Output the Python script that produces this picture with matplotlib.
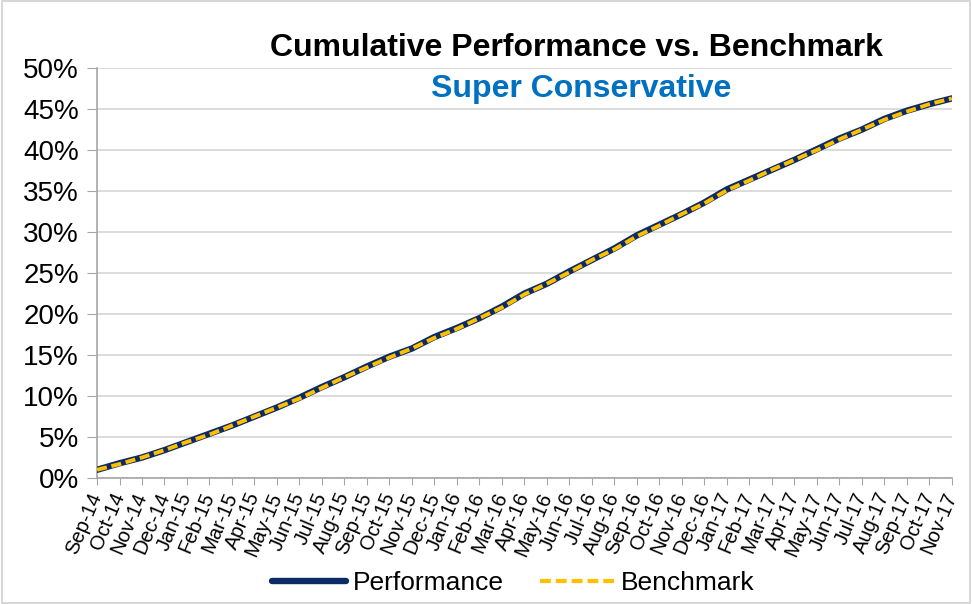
import matplotlib

matplotlib.use("Agg")
import matplotlib.pyplot as plt
from matplotlib.lines import Line2D
from matplotlib.patches import Rectangle
from matplotlib.ticker import FuncFormatter, MultipleLocator

plt.rcParams["font.family"] = ["Liberation Sans", "DejaVu Sans"]

months = [
    "Sep-14", "Oct-14", "Nov-14", "Dec-14", "Jan-15", "Feb-15", "Mar-15", "Apr-15",
    "May-15", "Jun-15", "Jul-15", "Aug-15", "Sep-15", "Oct-15", "Nov-15", "Dec-15",
    "Jan-16", "Feb-16", "Mar-16", "Apr-16", "May-16", "Jun-16", "Jul-16", "Aug-16",
    "Sep-16", "Oct-16", "Nov-16", "Dec-16", "Jan-17", "Feb-17", "Mar-17", "Apr-17",
    "May-17", "Jun-17", "Jul-17", "Aug-17", "Sep-17", "Oct-17", "Nov-17",
]
performance = [
    1.0, 1.8, 2.5, 3.4, 4.4, 5.4, 6.4, 7.5, 8.6, 9.8, 11.1, 12.3, 13.6, 14.8, 15.8,
    17.2, 18.3, 19.5, 20.9, 22.5, 23.7, 25.2, 26.6, 28.0, 29.6, 30.9, 32.2, 33.6,
    35.2, 36.4, 37.6, 38.8, 40.1, 41.4, 42.5, 43.8, 44.8, 45.6, 46.3,
]
benchmark = [
    1.0, 1.7, 2.5, 3.4, 4.4, 5.3, 6.4, 7.5, 8.6, 9.7, 11.0, 12.3, 13.5, 14.7, 15.8,
    17.1, 18.2, 19.5, 20.8, 22.4, 23.7, 25.1, 26.6, 27.9, 29.5, 30.8, 32.2, 33.5,
    35.1, 36.3, 37.6, 38.8, 40.0, 41.3, 42.5, 43.7, 44.7, 45.6, 46.3,
]

NAVY = "#0c2a63"
GOLD = "#ffc000"
GRID = "#d9d9d9"
AXIS = "#a6a6a6"

fig = plt.figure(figsize=(9.72, 6.04), dpi=100)
ax = fig.add_axes([0.0998, 0.2086, 0.8795, 0.6787])

xs = list(range(len(months)))
ax.plot(xs, [v / 100 for v in performance], color=NAVY, lw=4.6, solid_capstyle="round", zorder=3)
ax.plot(xs, [v / 100 for v in benchmark], color=GOLD, lw=2.8, dashes=(2.6, 1.2), zorder=4)

ax.set_xlim(0, len(months) - 1)
ax.set_ylim(0, 0.5)
ax.yaxis.set_major_locator(MultipleLocator(0.05))
ax.yaxis.set_major_formatter(FuncFormatter(lambda v, _: f"{v * 100:.0f}%"))
ax.grid(axis="y", color=GRID, lw=1.3)
ax.set_axisbelow(True)

ax.set_xticks(xs)
ax.set_xticklabels(months, rotation=67, ha="right", va="center", rotation_mode="anchor", fontsize=14.5)
ax.tick_params(axis="x", length=5, color=AXIS, pad=6)
ax.tick_params(axis="y", length=7, color=AXIS, labelsize=20, pad=6)

for side in ("top", "right"):
    ax.spines[side].set_visible(False)
for side in ("left", "bottom"):
    ax.spines[side].set_color(AXIS)
    ax.spines[side].set_linewidth(1.2)

fig.text(0.593, 0.921, "Cumulative Performance vs. Benchmark", ha="center", va="center",
         fontsize=23, fontweight="bold", color="black")
fig.text(0.598, 0.853, "Super Conservative", ha="center", va="center",
         fontsize=23, fontweight="bold", color="#0070c0")

handles = [
    Line2D([], [], color=NAVY, lw=4.6, solid_capstyle="round"),
    Line2D([], [], color=GOLD, lw=3.0, dashes=(2.6, 1.2)),
]
fig.legend(handles, ["Performance", "Benchmark"], loc="center", bbox_to_anchor=(0.528, 0.034),
           ncol=2, frameon=False, fontsize=19, handlelength=2.8, columnspacing=1.4, handletextpad=0.25)

fig.patches.append(Rectangle((0.002, 0.002), 0.996, 0.996, transform=fig.transFigure,
                             fill=False, edgecolor="#d0d0d0", lw=1.2))

fig.savefig("out.png", dpi=100)
